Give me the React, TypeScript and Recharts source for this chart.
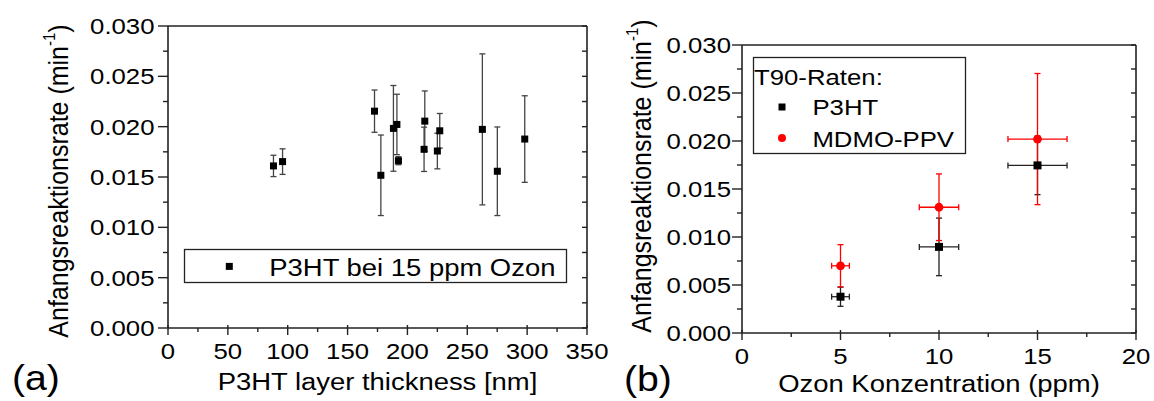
import { ScatterChart, Scatter, XAxis, YAxis, ErrorBar, Legend } from "recharts";

const FONT = '"Liberation Sans", Arial, Helvetica, sans-serif';
const SX = 1.12; // glyphs in the figure are a little wider than tall
const AXIS = "#222";

// (a) rate vs. layer thickness
const thicknessNm = [88.1, 95.7, 172.5, 177.8, 188.3, 191.2, 192.5, 214.5, 213.9, 225.0, 227.0, 262.6, 275.1, 298.0];
const rateA = [0.0161, 0.01653, 0.02154, 0.01517, 0.01983, 0.02022, 0.01662, 0.02055, 0.01775, 0.01758, 0.01959, 0.01973, 0.01557, 0.01877];
const rateAErr = [0.00106, 0.00127, 0.0021, 0.004, 0.00426, 0.003, 0.0004, 0.003, 0.0022, 0.00177, 0.00172, 0.0075, 0.0044, 0.0043];
const nameA = "P3HT bei 15 ppm Ozon";

// (b) rate vs. ozone concentration
const ozonPpm = [5, 10, 15];
const ozonErr = [0.45, 1.0, 1.5];
const p3htRate = [0.00378, 0.00897, 0.01746];
const p3htErr = [0.001, 0.003, 0.00305];
const mdmoRate = [0.007, 0.0131, 0.0202];
const mdmoErr = [0.0022, 0.00347, 0.00683];
const legendTitleB = "T90-Raten:";
const nameP3ht = "P3HT";
const nameMdmo = "MDMO-PPV";

const rateTicks = [0, 0.0025, 0.005, 0.0075, 0.01, 0.0125, 0.015, 0.0175, 0.02, 0.0225, 0.025, 0.0275, 0.03];
const thicknessTicks = [0, 25, 50, 75, 100, 125, 150, 175, 200, 225, 250, 275, 300, 325, 350];
const ozonTicks = [0, 2.5, 5, 7.5, 10, 12.5, 15, 17.5, 20];

const yTitle = "Anfangsreaktionsrate (min";
const xTitleA = "P3HT layer thickness [nm]";
const xTitleB = "Ozon Konzentration (ppm)";

const dataA = thicknessNm.map((x, i) => ({ x, y: rateA[i], ey: rateAErr[i] }));
const dataP3ht = ozonPpm.map((x, i) => ({ x, y: p3htRate[i], ex: ozonErr[i], ey: p3htErr[i] }));
const dataMdmo = ozonPpm.map((x, i) => ({ x, y: mdmoRate[i], ex: ozonErr[i], ey: mdmoErr[i] }));

function SText({ x, y, size, anchor = "start", baseline, rotate = false, children }: any) {
  const t = `translate(${x},${y}) scale(${SX},1)${rotate ? " rotate(-90)" : ""}`;
  return (
    <text transform={t} fontSize={size} fontFamily={FONT} textAnchor={anchor} dominantBaseline={baseline} fill="#000">
      {children}
    </text>
  );
}

function LeftTick({ x, y, index, payload, gap }: any) {
  const major = index % 2 === 0;
  return (
    <g>
      <line x1={x - (major ? 10 : 5)} x2={x} y1={y} y2={y} stroke={AXIS} strokeWidth={1.4} />
      {major && (
        <SText x={x - gap} y={y} size={23} anchor="end" baseline="central">
          {payload.value.toFixed(3)}
        </SText>
      )}
    </g>
  );
}

function BottomTick({ x, y, index, payload }: any) {
  const major = index % 2 === 0;
  return (
    <g>
      <line x1={x} x2={x} y1={major ? y - 3 : y} y2={y + (major ? 7 : 4)} stroke={AXIS} strokeWidth={1.4} />
      {major && (
        <SText x={x} y={y + 23} size={23} anchor="middle" baseline="central">
          {String(payload.value)}
        </SText>
      )}
    </g>
  );
}

function TopTick({ x, y }: any) {
  return <line x1={x} x2={x} y1={y} y2={y + 5} stroke={AXIS} strokeWidth={1.4} />;
}

function RightTick({ x, y }: any) {
  return <line x1={x - 5} x2={x} y1={y} y2={y} stroke={AXIS} strokeWidth={1.4} />;
}

function YTitle({ x, y }: any) {
  return (
    <SText x={x} y={y} size={25} anchor="middle" baseline="central" rotate>
      {yTitle}
      <tspan dy={-9} fontSize={15}>-1</tspan>
      <tspan dy={9}>)</tspan>
    </SText>
  );
}

const Square = (size: number, fill: string) => (p: any) =>
  <rect x={p.cx - size / 2} y={p.cy - size / 2} width={size} height={size} fill={fill} />;

const Dot = (r: number, fill: string) => (p: any) => <circle cx={p.cx} cy={p.cy} r={r} fill={fill} />;

function LegendA() {
  return (
    <svg width={383} height={34} style={{ display: "block", overflow: "visible" }}>
      <rect x={0.5} y={0.5} width={382} height={33} fill="#fff" stroke={AXIS} strokeWidth={1.3} />
      <rect x={45.3 - 3.5} y={17.4 - 3.5} width={7} height={7} fill="#000" />
      <SText x={85.3} y={26.7} size={24.5}>{nameA}</SText>
    </svg>
  );
}

function LegendB() {
  return (
    <svg width={213} height={97} style={{ display: "block", overflow: "visible" }}>
      <rect x={0.5} y={0.5} width={212} height={96} fill="#fff" stroke={AXIS} strokeWidth={1.3} />
      <SText x={1} y={27.6} size={23}>{legendTitleB}</SText>
      <rect x={29 - 3.5} y={50 - 3.5} width={7} height={7} fill="#000" />
      <SText x={59.4} y={58.3} size={23}>{nameP3ht}</SText>
      <circle cx={29} cy={81} r={4} fill="#ff0000" />
      <SText x={59.4} y={90} size={23}>{nameMdmo}</SText>
    </svg>
  );
}

// axes need a non-zero size to be drawn, so the frame axes get 1px
const frameX = {
  type: "number" as const,
  interval: 0,
  allowDataOverflow: true,
  height: 1,
  tickSize: 0,
  tickMargin: 0,
  tickLine: false,
  axisLine: { stroke: AXIS, strokeWidth: 1.6 },
};
const frameY = { ...frameX, height: undefined, width: 1 };

function PanelA() {
  return (
    <ScatterChart width={620} height={401} margin={{ top: 25, right: 32, bottom: 72, left: 0 }}>
      <XAxis
        {...frameX}
        dataKey="x"
        domain={[0, 350]}
        ticks={thicknessTicks}
        tick={(p: any) => <BottomTick {...p} />}
        label={() => (
          <g>
            <SText x={377.5} y={382} size={24.5} anchor="middle" baseline="central">{xTitleA}</SText>
            <SText x={12} y={390} size={35}>(a)</SText>
          </g>
        )}
      />
      <XAxis
        {...frameX}
        xAxisId="top"
        orientation="top"
        domain={[0, 350]}
        ticks={thicknessTicks}
        tick={(p: any) => <TopTick {...p} />}
      />
      <YAxis
        {...frameY}
        dataKey="y"
        domain={[0, 0.03]}
        ticks={rateTicks}
        width={168}
        tick={(p: any) => <LeftTick {...p} gap={13.5} />}
        label={() => <YTitle x={59} y={181} />}
      />
      <YAxis
        {...frameY}
        yAxisId="right"
        orientation="right"
        domain={[0, 0.03]}
        ticks={rateTicks}
        tick={(p: any) => <RightTick {...p} />}
      />
      <Legend
        layout="horizontal"
        verticalAlign="middle"
        align="center"
        wrapperStyle={{ left: 184, top: 249, width: 383, height: 34 }}
        content={() => <LegendA />}
      />
      <Scatter name={nameA} data={dataA} shape={Square(7, "#000")} isAnimationActive={false}>
        <ErrorBar dataKey="ey" direction="y" width={3} stroke="#444" strokeWidth={1.3} isAnimationActive={false} />
      </Scatter>
    </ScatterChart>
  );
}

function PanelB() {
  return (
    <ScatterChart width={554} height={401} margin={{ top: 44, right: 17, bottom: 67, left: 0 }}>
      <XAxis
        {...frameX}
        dataKey="x"
        domain={[0, 20]}
        ticks={ozonTicks}
        tick={(p: any) => <BottomTick {...p} />}
        label={() => (
          <g>
            <SText x={339} y={384} size={24.5} anchor="middle" baseline="central">{xTitleB}</SText>
            <SText x={24} y={391} size={35}>(b)</SText>
          </g>
        )}
      />
      <XAxis
        {...frameX}
        xAxisId="top"
        orientation="top"
        domain={[0, 20]}
        ticks={ozonTicks}
        tick={(p: any) => <TopTick {...p} />}
      />
      <YAxis
        {...frameY}
        dataKey="y"
        domain={[0, 0.03]}
        ticks={rateTicks}
        width={142}
        tick={(p: any) => <LeftTick {...p} gap={11} />}
        label={() => <YTitle x={42} y={176} />}
      />
      <YAxis
        {...frameY}
        yAxisId="right"
        orientation="right"
        domain={[0, 0.03]}
        ticks={rateTicks}
        tick={(p: any) => <RightTick {...p} />}
      />
      <Legend
        layout="horizontal"
        verticalAlign="middle"
        align="center"
        wrapperStyle={{ left: 153.3, top: 56.7, width: 213, height: 97 }}
        content={() => <LegendB />}
      />
      <Scatter name={nameP3ht} data={dataP3ht} shape={Square(8, "#000")} isAnimationActive={false}>
        <ErrorBar dataKey="ey" direction="y" width={3} stroke="#222" strokeWidth={1.3} isAnimationActive={false} />
        <ErrorBar dataKey="ex" direction="x" width={3} stroke="#222" strokeWidth={1.3} isAnimationActive={false} />
      </Scatter>
      <Scatter name={nameMdmo} data={dataMdmo} shape={Dot(4.4, "#ff0000")} isAnimationActive={false}>
        <ErrorBar dataKey="ey" direction="y" width={3} stroke="#ff0000" strokeWidth={1.3} isAnimationActive={false} />
        <ErrorBar dataKey="ex" direction="x" width={3} stroke="#ff0000" strokeWidth={1.3} isAnimationActive={false} />
      </Scatter>
    </ScatterChart>
  );
}

export default function App() {
  return (
    <div style={{ position: "absolute", left: 0, top: 0, width: 1154, height: 401, background: "#fff" }}>
      <div style={{ position: "absolute", left: 0, top: 0 }}>
        <PanelA />
      </div>
      <div style={{ position: "absolute", left: 600, top: 0 }}>
        <PanelB />
      </div>
    </div>
  );
}
